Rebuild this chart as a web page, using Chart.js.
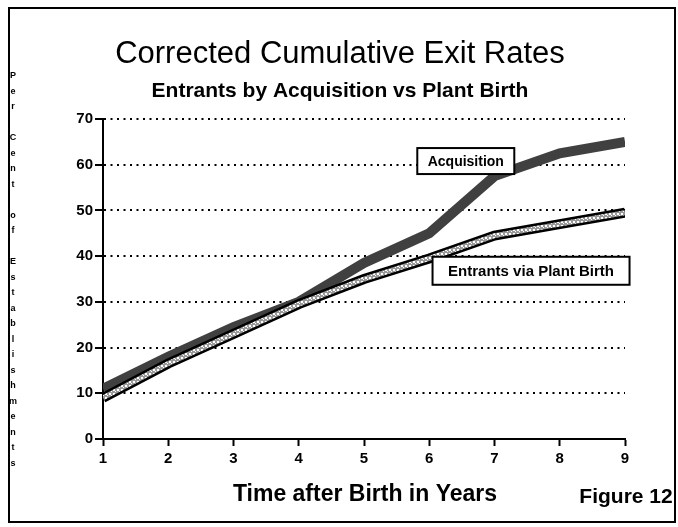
<!DOCTYPE html>
<html>
<head>
<meta charset="utf-8">
<script src="https://cdn.jsdelivr.net/npm/chart.js@4.4.0/dist/chart.umd.min.js"></script>
<style>
  html, body { margin: 0; padding: 0; background: #fff; }
</style>
</head>
<body>
<canvas id="chart" width="678" height="527"></canvas>
<script>
// data
const years = [1, 2, 3, 4, 5, 6, 7, 8, 9];
const acquisition = [11, 18, 24.5, 30, 38.5, 45, 57.5, 62.5, 65];
const plantBirth = [9, 16.5, 23, 29.5, 35, 39.5, 44.5, 47, 49.5];
const yTicks = [0, 10, 20, 30, 40, 50, 60, 70];

const mainTitle = 'Corrected Cumulative Exit Rates';
const subTitle = 'Entrants by Acquisition vs Plant Birth';
const xTitle = 'Time after Birth in Years';
const yTitle = 'Per Cent of Establishments';
const figureLabel = 'Figure 12';
const seriesNames = ['Acquisition', 'Entrants via Plant Birth'];

const FONT = '"Liberation Sans", Arial, Helvetica, sans-serif';

// dotted fill for the plant birth line
function makePattern() {
  const c = document.createElement('canvas');
  c.width = 4; c.height = 4;
  const g = c.getContext('2d');
  g.fillStyle = '#9a9a9a';
  g.fillRect(0, 0, 4, 4);
  g.fillStyle = '#ffffff';
  g.fillRect(1, 1, 2, 2);
  g.fillRect(3, 3, 1, 1);
  return g.createPattern(c, 'repeat');
}

const decor = {
  id: 'decor',
  afterDraw(chart, args, opts) {
    const ctx = chart.ctx;
    const xs = chart.scales.x, ys = chart.scales.y;
    ctx.save();

    // page frame
    ctx.strokeStyle = '#000';
    ctx.lineWidth = 2;
    ctx.strokeRect(9, 8, 666, 514);

    ctx.fillStyle = '#000';
    ctx.textAlign = 'center';
    ctx.textBaseline = 'alphabetic';

    ctx.font = '31px ' + FONT;
    ctx.fillText(mainTitle, 340, 63);

    ctx.font = 'bold 21px ' + FONT;
    ctx.fillText(subTitle, 340, 97);

    ctx.font = 'bold 23px ' + FONT;
    ctx.fillText(xTitle, 365, 501);

    ctx.font = 'bold 21px ' + FONT;
    ctx.fillText(figureLabel, 626, 503);

    // stacked vertical axis title
    ctx.font = 'bold 9px ' + FONT;
    ctx.textBaseline = 'middle';
    const chars = yTitle.split('');
    chars.forEach((ch, i) => {
      if (ch !== ' ') ctx.fillText(ch, 13, 76 + i * 15.5);
    });

    // boxed series labels
    opts.boxes.forEach((b, i) => {
      const cx = xs.getPixelForValue(b.x);
      const cy = ys.getPixelForValue(b.y);
      ctx.fillStyle = '#fff';
      ctx.fillRect(cx - b.w / 2, cy - b.h / 2, b.w, b.h);
      ctx.strokeStyle = '#000';
      ctx.lineWidth = 2;
      ctx.strokeRect(cx - b.w / 2, cy - b.h / 2, b.w, b.h);
      ctx.fillStyle = '#000';
      ctx.font = 'bold ' + b.size + 'px ' + FONT;
      ctx.textBaseline = 'middle';
      ctx.fillText(seriesNames[i], cx, cy + 1);
    });

    ctx.restore();
  }
};

const pattern = makePattern();

new Chart(document.getElementById('chart').getContext('2d'), {
  type: 'line',
  data: {
    labels: years,
    datasets: [
      {
        label: seriesNames[1] + ' fill',
        data: plantBirth,
        borderColor: pattern,
        borderWidth: 5,
        pointRadius: 0,
        tension: 0,
        fill: false
      },
      {
        label: seriesNames[1],
        data: plantBirth,
        borderColor: '#000',
        borderWidth: 10,
        pointRadius: 0,
        tension: 0,
        fill: false
      },
      {
        label: seriesNames[0],
        data: acquisition,
        borderColor: '#404040',
        borderWidth: 10,
        pointRadius: 0,
        tension: 0,
        fill: false
      }
    ]
  },
  options: {
    responsive: false,
    animation: false,
    devicePixelRatio: 1,
    layout: { padding: { top: 119, right: 53, left: 0, bottom: 0 } },
    plugins: {
      legend: { display: false },
      tooltip: { enabled: false },
      decor: {
        boxes: [
          { x: 6.56, y: 60.8, w: 97, h: 26, size: 14 },
          { x: 7.56, y: 36.8, w: 197, h: 28, size: 15 }
        ]
      }
    },
    scales: {
      x: {
        type: 'linear',
        min: 1,
        max: 9,
        afterBuildTicks(scale) {
          scale.ticks = years.map(v => ({ value: v }));
        },
        afterFit(scale) { scale.height = 88; },
        border: { display: true, color: '#000', width: 2 },
        grid: {
          drawOnChartArea: false,
          tickLength: 7,
          tickColor: '#000',
          tickWidth: 2
        },
        ticks: {
          color: '#000',
          padding: 4,
          maxRotation: 0,
          font: { family: FONT, size: 15, weight: 'bold' }
        }
      },
      y: {
        min: 0,
        max: 70,
        afterBuildTicks(scale) {
          scale.ticks = yTicks.map(v => ({ value: v }));
        },
        afterFit(scale) { scale.width = 103; },
        border: { display: true, color: '#000', width: 2, dash: [2, 4.5] },
        grid: {
          drawOnChartArea: true,
          color: ctx => (ctx.tick && ctx.tick.value === 0 ? 'rgba(0,0,0,0)' : '#000'),
          lineWidth: 2,
          tickLength: 8,
          tickColor: '#000',
          tickWidth: 2,
          tickBorderDash: []
        },
        ticks: {
          color: '#000',
          padding: 2,
          font: { family: FONT, size: 15, weight: 'bold' }
        }
      }
    }
  },
  plugins: [decor]
});
</script>
</body>
</html>
